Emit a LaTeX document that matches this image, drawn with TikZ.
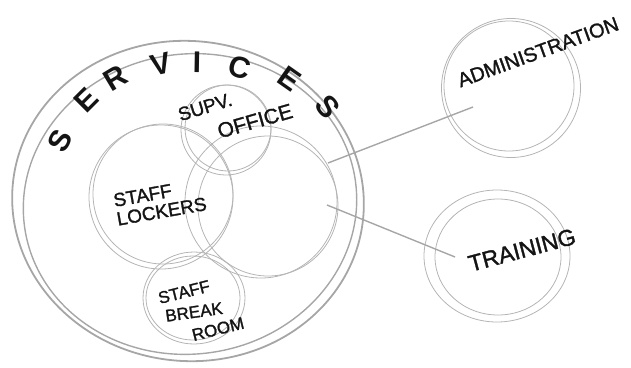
\documentclass[tikz,border=0pt]{standalone}
\usepackage{fontspec}
\setmainfont{Liberation Sans}
\newfontfamily\handfont[FakeBold=1.4]{Liberation Sans}
\usetikzlibrary{shapes.geometric}
\definecolor{pencil}{HTML}{B4B4B4}
\definecolor{leadgray}{HTML}{A6A6A6}
\definecolor{ink}{HTML}{141414}

\begin{document}
\begin{tikzpicture}[x=1pt,y=-1pt,
    bubble/.style={draw=pencil, line width=0.8pt, circle, inner sep=0pt},
    oval/.style={draw=pencil, line width=0.8pt, ellipse, inner sep=0pt},
    zone/.style={draw=leadgray, line width=1.8pt, ellipse, inner sep=0pt},
    hand/.style={text=ink, inner sep=0pt, font=\handfont\fontsize{#1}{#1}\selectfont},
    hand/.default=18,
    link/.style={draw=leadgray, line width=1.4pt}]
  \useasboundingbox (0,0) rectangle (631,367);
  % services zone
  \node[zone, minimum width=352, minimum height=320, rotate=-6] (services) at (188,201) {};
  \node[zone, line width=1.4pt, minimum width=334, minimum height=300, rotate=8] (services2) at (190,204) {};
  \foreach \x/\y/\a/\ch [count=\i] in {60/141/62/S, 86/100/45/E, 115/78/31/R, 161/64/13/V,
      197/62/-1/I, 240/68/-16/C, 290/79/-35/E, 328/107/-51/S}
    \node[hand, font=\bfseries\fontsize{30}{30}\selectfont, rotate=\a] (srv\i) at (\x,\y) {\ch};
  % rooms inside
  \node[bubble, minimum size=90] (office) at (226,130) {};
  \draw[pencil, line width=0.8pt] (228,128) circle (43);
  \node[bubble, minimum size=144] (lockers) at (161,197) {};
  \draw[pencil, line width=0.8pt] (163,194) circle (70);
  \node[bubble, minimum size=152] (hub) at (261,202) {};
  \draw[pencil, line width=0.8pt] (268,206) circle (70);
  \node[oval, minimum width=102, minimum height=92] (breakroom) at (194,298) {};
  \draw[pencil, line width=0.8pt] (193,298) ellipse [x radius=47, y radius=42];
  % rooms outside
  \node[bubble, minimum size=139] (admin) at (511,88) {};
  \draw[pencil, line width=0.8pt] (509,86) circle (65);
  \node[oval, minimum width=146, minimum height=132] (training) at (497,256) {};
  \draw[pencil, line width=0.8pt] (498,257) ellipse [x radius=63, y radius=58];
  % labels
  \node[hand=19, rotate=17] (supv) at (205,107) {SUPV.};
  \node[hand=21, rotate=16] (officetxt) at (255,121) {OFFICE};
  \node[hand=19, rotate=10, align=left] (lockerstxt) at (160,202) {STAFF\\LOCKERS};
  \node[hand=17, rotate=14] (bstaff) at (184,292) {STAFF};
  \node[hand=17, rotate=8] (bbreak) at (194,312) {BREAK};
  \node[hand=17, rotate=14] (broom) at (218,329) {ROOM};
  \node[hand=20, rotate=20] (admintxt) at (538,52) {ADMINISTRATION};
  \node[hand=23, rotate=15] (trainingtxt) at (522,250) {TRAINING};
  % links
  \coordinate (hubA) at (328,163);
  \coordinate (hubB) at (327,205);
  \coordinate (adminend) at (473,107);
  \coordinate (trainend) at (455,257);
  \draw[link] (hubA) -- (adminend);
  \draw[link] (hubB) -- (trainend);
\end{tikzpicture}
\end{document}
